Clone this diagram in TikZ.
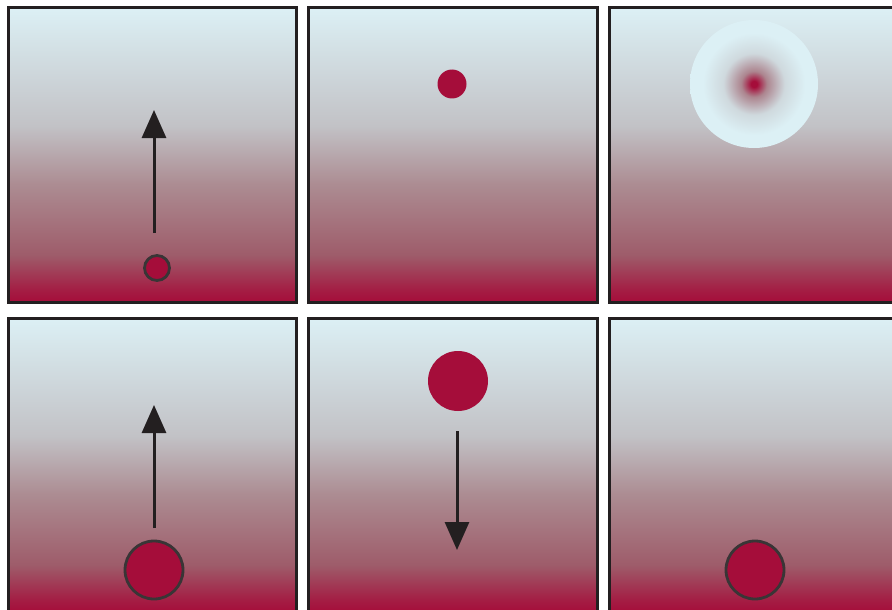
\documentclass[tikz,border=0pt]{standalone}
\usetikzlibrary{arrows.meta}
\definecolor{crim}{RGB}{165,13,58}
\definecolor{ice}{RGB}{220,240,245}
\definecolor{haze}{RGB}{194,194,198}
\definecolor{dusk}{RGB}{172,140,146}
\definecolor{rosy}{RGB}{158,92,106}
\definecolor{ink}{RGB}{35,31,32}
% the path is fitted to the band 25bp--75bp of the shading
\pgfdeclareverticalshading{depth}{100bp}{color(0bp)=(crim); color(25bp)=(crim); color(27bp)=(crim!80!rosy); color(33bp)=(rosy); color(45bp)=(dusk); color(55bp)=(haze); color(75bp)=(ice); color(100bp)=(ice)}
\pgfdeclareradialshading{glow}{\pgfpoint{0bp}{0bp}}{color(0bp)=(crim); color(1.2bp)=(crim); color(5bp)=(rosy!60!haze); color(12bp)=(haze!50!ice); color(20bp)=(ice); color(25bp)=(ice); color(50bp)=(ice)}
\tikzset{
  panel/.style={draw=ink, line width=3pt, shading=depth},
  ball/.style={circle, fill=crim, inner sep=0pt},
  rimball/.style={ball, draw=ink!90!white, line width=2.8pt},
  lift/.style={draw=ink, line width=3pt, -{Triangle[width=24pt,length=28pt]}}
}
\begin{document}
\begin{tikzpicture}[x=1pt,y=-1pt]
	\useasboundingbox (0,0) rectangle (892,610);
	\clip (0,0) rectangle (892,610);
	% top row
	\path[panel] (8,8) rectangle (296,302);
	\path[panel] (308,8) rectangle (597,302);
	\path[panel] (609,8) rectangle (898,302);
	% bottom row
	\path[panel] (8,318) rectangle (296,612);
	\path[panel] (308,318) rectangle (597,612);
	\path[panel] (609,318) rectangle (898,612);
	% top row contents
	\node[rimball, minimum size=25pt] (seed) at (157,268) {};
	\coordinate (seedtail) at (154,233);
	\coordinate (seedtip) at (154,110);
	\draw[lift] (seedtail) -- (seedtip);
	\node[ball, minimum size=29pt] (risen) at (452,84) {};
	\node[circle, minimum size=128pt, inner sep=0pt, shading=glow] (cloud) at (754,84) {};
	% bottom row contents
	\node[rimball, minimum size=58pt] (drop) at (154,570) {};
	\coordinate (droptail) at (154,528);
	\coordinate (droptip) at (154,405);
	\draw[lift] (droptail) -- (droptip);
	\node[ball, minimum size=60pt] (top) at (458,381) {};
	\coordinate (falltail) at (457,431);
	\coordinate (falltip) at (457,550);
	\draw[lift] (falltail) -- (falltip);
	\node[rimball, minimum size=58pt] (rest) at (755,570) {};
\end{tikzpicture}
\end{document}
